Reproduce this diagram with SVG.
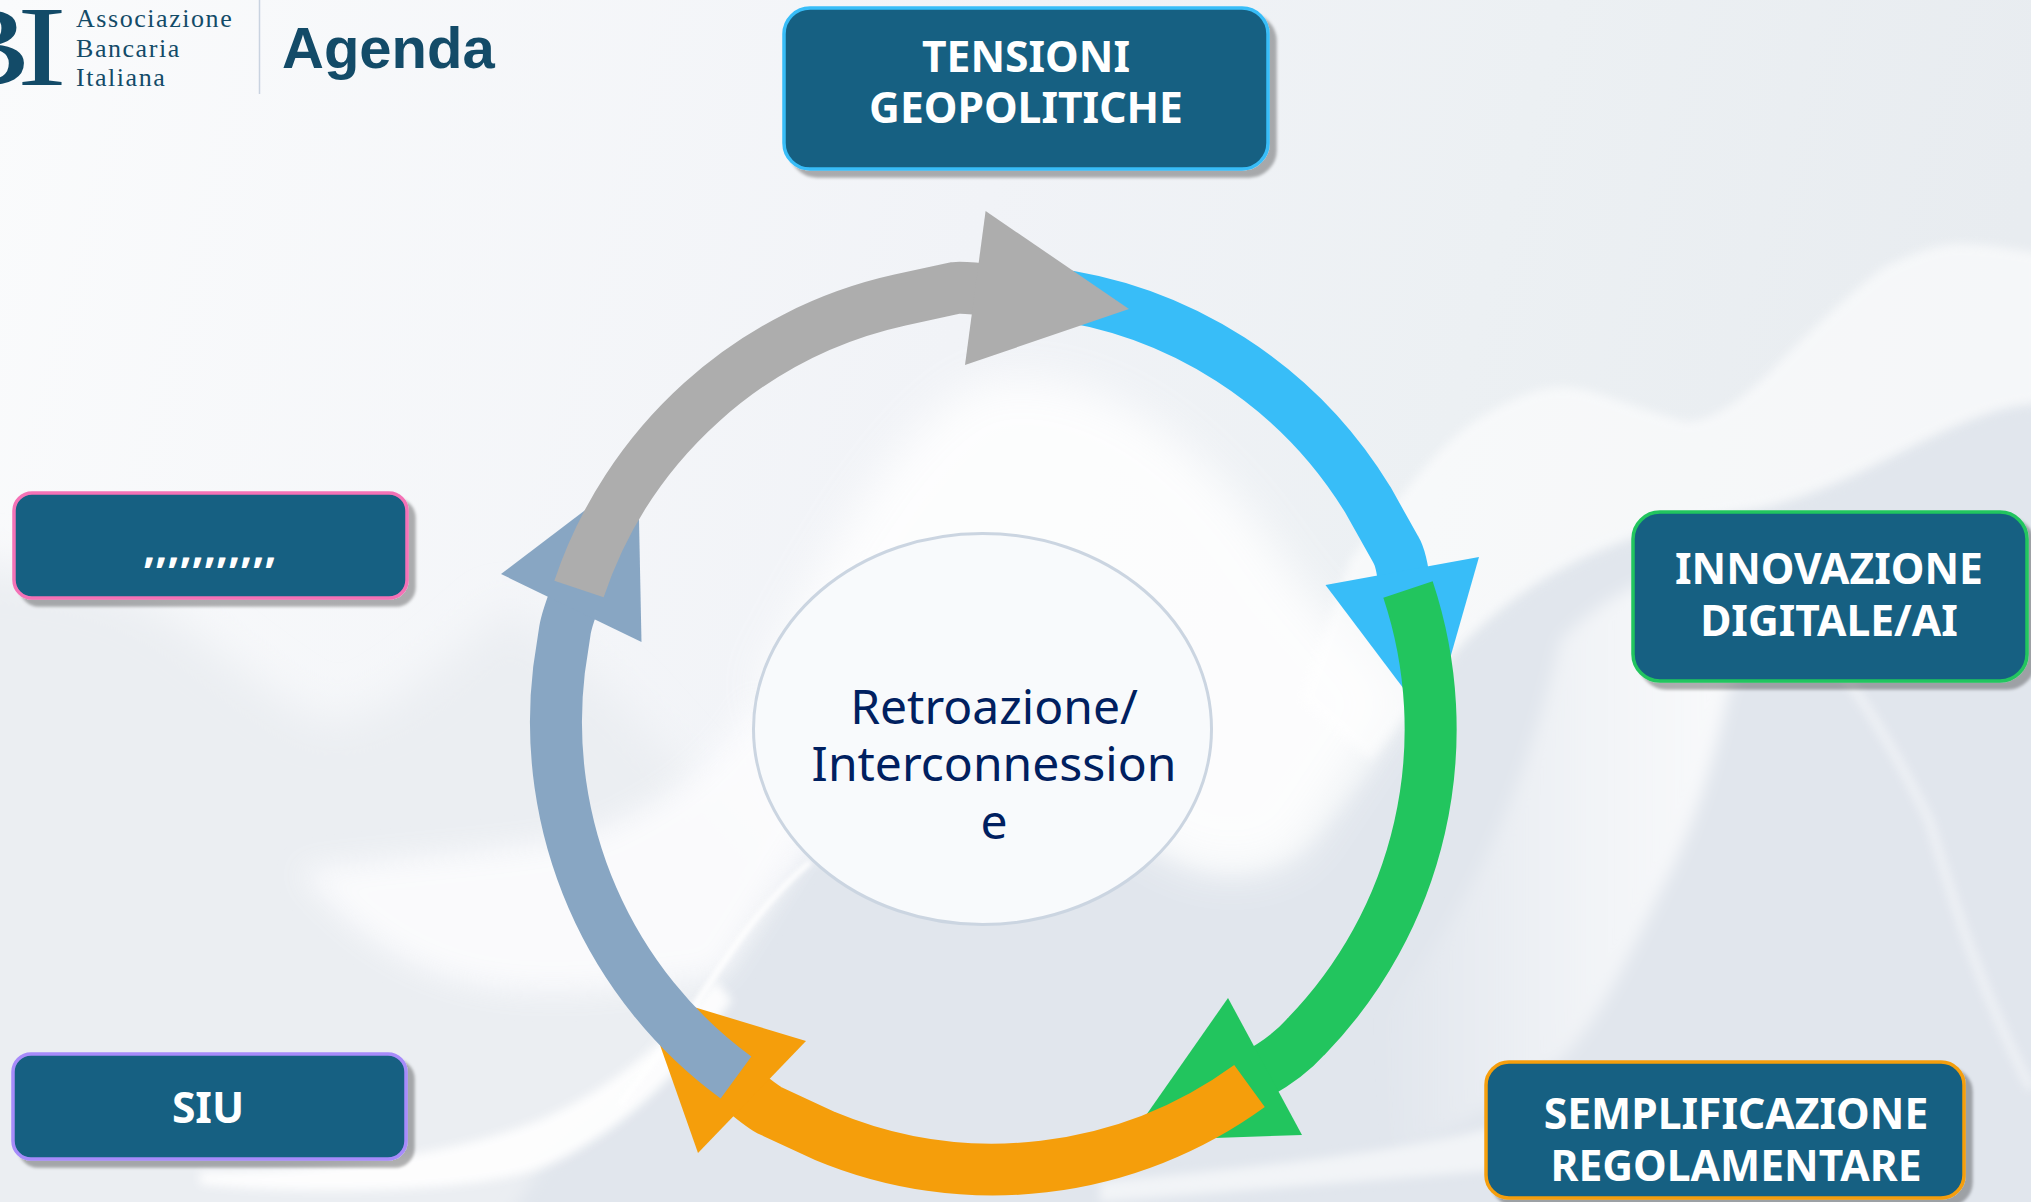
<svg xmlns="http://www.w3.org/2000/svg" width="2031" height="1202" viewBox="0 0 2031 1202">
<defs>
<linearGradient id="bg" x1="0" y1="0" x2="1" y2="0.15"><stop offset="0" stop-color="#fafbfc"/><stop offset="0.5" stop-color="#f1f3f7"/><stop offset="0.75" stop-color="#ecf0f3"/><stop offset="1" stop-color="#e8ecf0"/></linearGradient>
<linearGradient id="band" x1="0" y1="0" x2="1" y2="0"><stop offset="0" stop-color="#fff" stop-opacity="0"/><stop offset="0.55" stop-color="#fff" stop-opacity="0.55"/><stop offset="1" stop-color="#fff" stop-opacity="0.85"/></linearGradient>
<filter id="b22" x="-20%" y="-20%" width="140%" height="140%"><feGaussianBlur stdDeviation="22"/></filter>
<filter id="b14" x="-20%" y="-20%" width="140%" height="140%"><feGaussianBlur stdDeviation="14"/></filter>
<filter id="b8" x="-20%" y="-20%" width="140%" height="140%"><feGaussianBlur stdDeviation="8"/></filter>
<filter id="b5" x="-20%" y="-20%" width="140%" height="140%"><feGaussianBlur stdDeviation="5"/></filter>
<filter id="b2" x="-20%" y="-20%" width="140%" height="140%"><feGaussianBlur stdDeviation="2"/></filter>
<filter id="sh" x="-5%" y="-10%" width="115%" height="125%"><feDropShadow dx="7" dy="7" stdDeviation="1.5" flood-color="#000" flood-opacity="0.3"/></filter>
<style>
.box{fill:#156082;stroke-width:3.5;filter:url(#sh)}
.lbl{font-family:"Noto Sans",sans-serif;font-weight:700;font-size:42.6px;fill:#fff;text-anchor:middle}
.mid{font-family:"Noto Sans",sans-serif;font-size:48px;fill:#002060;text-anchor:middle}
.logo{font-family:"Liberation Serif",serif;font-size:26px;letter-spacing:1.55px;fill:#134b68}
.arc{fill:none;stroke-width:52;stroke-linecap:butt}
</style>
</defs>
<g id="background">
<rect width="2031" height="1202" fill="url(#bg)"/>
<path d="M-60 560C80 570 130 590 178 620C220 650 255 683 316 718C360 730 408 697 510 606L620 700L800 900L800 1262L-60 1262Z" fill="#ebeef2" filter="url(#b22)"/>
<path d="M805 860L1000 800L1130 830C1180 870 1240 890 1300 851C1370 782 1400 720 1454 652C1533 567 1626 529 1747 510C1859 491 1953 406 2031 403L2100 403L2100 1260L480 1260L540 1170L620 1110Z" fill="#e1e6ed" filter="url(#b8)"/>
<path d="M760 680C840 520 920 400 990 380C1090 365 1200 430 1290 570L1400 700L1300 851C1240 890 1180 870 1130 830L800 810Z" fill="#fff" opacity="0.85" filter="url(#b22)"/>
<path d="M1350 560C1400 498 1440 440 1486 414C1520 395 1540 387 1566 387C1600 390 1626 406 1687 422C1720 420 1750 390 1766 376C1820 320 1860 285 1883 268C1920 250 1940 244 1962 244C2000 245 2031 253 2040 253L2040 403C1953 406 1859 491 1747 510C1626 529 1533 567 1454 652L1370 760L1300 700Z" fill="#fff" opacity="0.6" filter="url(#b5)"/>
<path d="M1560 640C1640 560 1720 560 1760 590C1750 640 1740 670 1729 690C1710 780 1690 830 1673 867C1640 930 1600 1030 1552 1066C1500 1100 1440 1140 1393 1150L1380 1020C1480 900 1530 770 1560 640Z" fill="url(#band)" filter="url(#b8)"/>
<path d="M1720 590C1800 600 1860 680 1929 820C1950 890 1976 981 2031 1089" fill="none" stroke="#fff" stroke-width="9" opacity="0.45" filter="url(#b5)"/>
<path d="M1100 1182C1200 1172 1400 1155 1500 1125L1500 1170L1100 1202Z" fill="#f2f4f7" filter="url(#b5)"/>
<path d="M300 870C450 850 560 850 612 824C680 790 720 760 755 697L830 800L720 975C640 985 560 1000 480 985C400 970 340 920 300 870Z" fill="#fdfdfe" opacity="0.85" filter="url(#b14)"/>
<path d="M200 1172C300 1172 440 1160 540 1120C610 1090 670 1040 715 980L732 1000C680 1075 620 1135 540 1168C480 1192 300 1196 200 1184Z" fill="#fff" opacity="0.9" filter="url(#b5)"/>
<path d="M620 1105C640 1075 670 1045 694 1007C715 975 755 908 810 862" fill="none" stroke="#fff" stroke-width="6" opacity="0.85" filter="url(#b2)"/>
</g>
<g id="logo">
<text transform="scale(1.3 1)" x="-52.800 13" y="85" font-family="Liberation Serif, serif" font-size="115" fill="#134b68">BI</text>
<text class="logo" x="76" y="27">Associazione</text>
<text class="logo" x="76" y="57">Bancaria</text>
<text class="logo" x="76" y="86">Italiana</text>
<path d="M259.500 0V94" stroke="#c9d3e0" stroke-width="1.500"/>
<text x="282" y="68" font-family="Liberation Sans, Arial, sans-serif" font-weight="700" font-size="58" fill="#134b68">Agenda</text>
</g>
<g id="connectors">
<g id="arrow-blue" fill="#38bdf8">
<path class="arc" stroke="#38bdf8" d="M1045 293A438 440 0 0 1 1368 500L1396 550Q1402 560 1405 590"/>
<polygon points="1325.500,585 1479,557 1431,725"/>
</g>
<g id="arrow-green" fill="#22c55e">
<path class="arc" stroke="#22c55e" d="M1408 589.500A438 440 0 0 1 1305.600 1037Q1285 1060 1250 1078"/>
<polygon points="1228,998 1302,1135 1128,1141"/>
</g>
<g id="arrow-orange" fill="#f59e0b">
<path class="arc" stroke="#f59e0b" d="M1249.500 1086A438 440 0 0 1 825 1136L769 1110Q760 1105 735 1084"/>
<polygon points="806,1041 698,1153 641,991"/>
</g>
<g id="arrow-steel" fill="#88a6c3">
<path class="arc" stroke="#88a6c3" d="M736 1077.500A438 440 0 0 1 559 670L565 630Q567 618 578 590"/>
<polygon points="638,470 641.500,642 501,574"/>
</g>
<g id="arrow-gray" fill="#adadad">
<path class="arc" stroke="#adadad" d="M579 589A438 440 0 0 1 900 300L955 288Q965 287 995 291"/>
<polygon points="985.600,211 1129,309 965,365"/>
</g>
</g>
<g id="node-center">
<ellipse cx="982.500" cy="729" rx="229" ry="195.500" fill="#f8fafc" stroke="#cbd5e1" stroke-width="3"/>
<text class="mid" x="994" y="724">Retroazione/</text>
<text class="mid" x="994" y="781">Interconnession</text>
<text class="mid" x="994" y="839">e</text>
</g>
<g id="node-tensioni">
<rect class="box" x="784" y="8" width="484" height="161" rx="26" stroke="#38bdf8"/>
<text class="lbl" x="1026" y="72">TENSIONI</text>
<text class="lbl" x="1026" y="123">GEOPOLITICHE</text>
</g>
<g id="node-innovazione">
<rect class="box" x="1633" y="512" width="394" height="169" rx="27" stroke="#22c55e"/>
<text class="lbl" x="1829" y="584">INNOVAZIONE</text>
<text class="lbl" x="1829" y="636">DIGITALE/AI</text>
</g>
<g id="node-semplificazione">
<rect class="box" x="1486" y="1062" width="478" height="136" rx="23" stroke="#f59e0b"/>
<text class="lbl" x="1736" y="1129">SEMPLIFICAZIONE</text>
<text class="lbl" x="1736" y="1181">REGOLAMENTARE</text>
</g>
<g id="node-siu">
<rect class="box" x="13" y="1054" width="393" height="105" rx="18" stroke="#a78bfa"/>
<text class="lbl" x="208" y="1123">SIU</text>
</g>
<g id="node-pink">
<rect class="box" x="14" y="493" width="393" height="105" rx="18" stroke="#f472b6"/>
<text class="lbl" x="210" y="562">,,,,,,,,,,,</text>
</g>
</svg>
